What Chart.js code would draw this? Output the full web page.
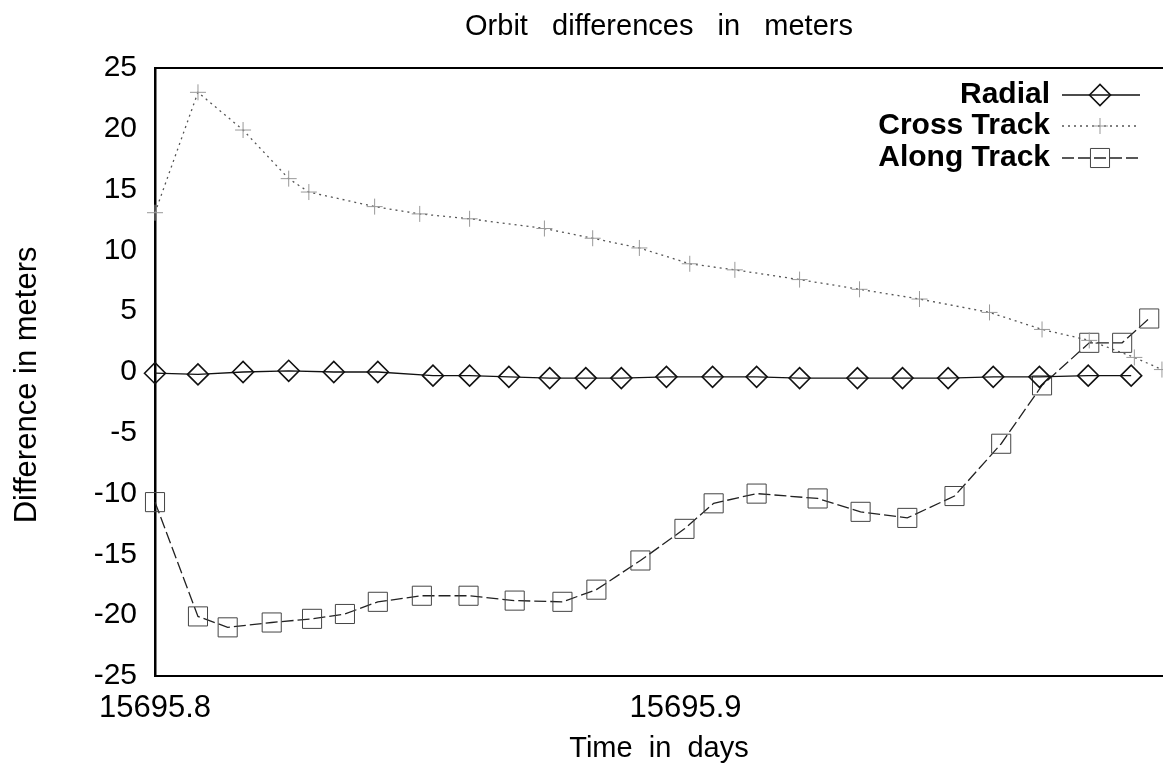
<!DOCTYPE html>
<html>
<head>
<meta charset="utf-8">
<title>Orbit differences in meters</title>
<script src="https://cdn.jsdelivr.net/npm/chart.js@4"></script>
<style>
  body { margin: 0; background: #fff; }
  #wrap { width: 1163px; height: 769px; }
</style>
</head>
<body>
<div id="wrap"><canvas id="orbitChart" width="1163" height="769"></canvas></div>
<script>
// values (time in days, difference in meters)
const radialTimes = [15695.8000, 15695.8081, 15695.8166, 15695.8252, 15695.8337, 15695.8420,
  15695.8524, 15695.8593, 15695.8667, 15695.8744, 15695.8812, 15695.8879, 15695.8964,
  15695.9051, 15695.9134, 15695.9215, 15695.9324, 15695.9409, 15695.9495, 15695.9580,
  15695.9667, 15695.9759, 15695.9840];
const radialValues = [-0.1, -0.2, 0.0, 0.1, 0.0, 0.0, -0.3, -0.3, -0.4, -0.5, -0.5, -0.5, -0.4,
  -0.4, -0.4, -0.5, -0.5, -0.5, -0.5, -0.4, -0.4, -0.3, -0.3];

const crossTimes = [15695.8000, 15695.8081, 15695.8166, 15695.8252, 15695.8290, 15695.8414,
  15695.8499, 15695.8593, 15695.8734, 15695.8825, 15695.8913, 15695.9008, 15695.9093,
  15695.9215, 15695.9328, 15695.9441, 15695.9573, 15695.9672, 15695.9761, 15695.9846,
  15695.9898];
const crossValues = [13.1, 23.0, 19.9, 15.9, 14.8, 13.6, 13.0, 12.6, 11.8, 11.0, 10.2, 8.9, 8.4,
  7.6, 6.8, 6.0, 4.9, 3.5, 2.6, 1.2, 0.2];

const alongTimes = [15695.8000, 15695.8081, 15695.8137, 15695.8220, 15695.8296, 15695.8358,
  15695.8420, 15695.8503, 15695.8591, 15695.8678, 15695.8768, 15695.8832, 15695.8915,
  15695.8998, 15695.9053, 15695.9134, 15695.9249, 15695.9330, 15695.9418, 15695.9507,
  15695.9595, 15695.9672, 15695.9761, 15695.9823, 15695.9874];
const alongValues = [-10.7, -20.1, -21.0, -20.6, -20.3, -19.9, -18.9, -18.4, -18.4, -18.8, -18.9,
  -17.9, -15.5, -12.9, -10.8, -10.0, -10.4, -11.5, -12.0, -10.2, -5.9, -1.1, 2.4, 2.4, 4.4];

const seriesNames = ['Radial', 'Cross Track', 'Along Track'];
const xTickValues = [15695.8, 15695.9];
const yTickValues = [-25, -20, -15, -10, -5, 0, 5, 10, 15, 20, 25];

const FONT = '"Liberation Sans", Arial, Helvetica, sans-serif';

function toPoints(times, values) {
  return times.map((t, i) => ({ x: t, y: values[i] }));
}

// legend drawn inside the plot, text on the left, sample on the right
const insideLegend = {
  id: 'insideLegend',
  afterDraw(chart) {
    const ctx = chart.ctx;
    const rows = [95, 126, 158];
    ctx.save();
    ctx.font = 'bold 30px ' + FONT;
    ctx.textAlign = 'right';
    ctx.textBaseline = 'middle';
    chart.data.datasets.forEach((ds, i) => {
      const y = rows[i];
      ctx.fillStyle = '#000';
      ctx.fillText(ds.label, 1050, y);

      ctx.strokeStyle = ds.borderColor;
      ctx.lineWidth = ds.borderWidth;
      ctx.setLineDash(ds.borderDash || []);
      ctx.beginPath();
      ctx.moveTo(1062, y);
      ctx.lineTo(1140, y);
      ctx.stroke();
      ctx.setLineDash([]);

      const r = ds.pointRadius;
      const cx = 1100;
      ctx.strokeStyle = ds.pointBorderColor;
      ctx.lineWidth = ds.pointBorderWidth;
      ctx.beginPath();
      if (ds.pointStyle === 'rectRot') {
        ctx.moveTo(cx - r, y); ctx.lineTo(cx, y - r);
        ctx.lineTo(cx + r, y); ctx.lineTo(cx, y + r); ctx.closePath();
      } else if (ds.pointStyle === 'rect') {
        const s = r * Math.SQRT1_2;
        ctx.rect(cx - s, y - s, 2 * s, 2 * s);
      } else {
        ctx.moveTo(cx - r, y); ctx.lineTo(cx + r, y);
        ctx.moveTo(cx, y - r); ctx.lineTo(cx, y + r);
      }
      ctx.stroke();
    });
    ctx.restore();
  }
};

new Chart(document.getElementById('orbitChart'), {
  type: 'line',
  data: {
    datasets: [
      {
        label: seriesNames[0],
        data: toPoints(radialTimes, radialValues),
        borderColor: '#111',
        borderWidth: 1.3,
        pointStyle: 'rectRot',
        pointRadius: 10.5,
        pointBorderColor: '#111',
        pointBorderWidth: 1.6,
        pointBackgroundColor: 'rgba(0,0,0,0)',
        clip: false
      },
      {
        label: seriesNames[1],
        data: toPoints(crossTimes, crossValues),
        borderColor: '#555',
        borderWidth: 1.3,
        borderDash: [2, 4],
        pointStyle: 'cross',
        pointRadius: 8,
        pointBorderColor: '#999',
        pointBorderWidth: 1,
        pointBackgroundColor: 'rgba(0,0,0,0)',
        clip: false
      },
      {
        label: seriesNames[2],
        data: toPoints(alongTimes, alongValues),
        borderColor: '#222',
        borderWidth: 1.3,
        borderDash: [12, 4],
        pointStyle: 'rect',
        pointRadius: 13.5,
        pointBorderColor: '#444',
        pointBorderWidth: 1,
        pointBackgroundColor: 'rgba(0,0,0,0)',
        clip: false
      }
    ]
  },
  options: {
    responsive: false,
    animation: false,
    layout: { padding: 0, autoPadding: false },
    elements: { line: { tension: 0 } },
    plugins: {
      legend: { display: false },
      title: { display: false },
      tooltip: { enabled: false }
    },
    scales: {
      x: {
        type: 'linear',
        position: 'bottom',
        min: 15695.8,
        max: 15695.99,
        afterFit: (s) => { s.height = 93; },
        afterBuildTicks: (s) => { s.ticks = xTickValues.map(v => ({ value: v })); },
        grid: { display: false },
        border: { display: true, color: '#000', width: 2 },
        ticks: {
          color: '#000',
          padding: 6,
          maxRotation: 0,
          font: { family: FONT, size: 31 },
          callback: (v) => Number(v).toFixed(1)
        },
        title: {
          display: true,
          text: 'Time  in  days',
          color: '#000',
          font: { family: FONT, size: 29 },
          padding: { top: 0, bottom: 3 }
        }
      },
      x2: {
        type: 'linear',
        position: 'top',
        min: 15695.8,
        max: 15695.99,
        afterFit: (s) => { s.height = 68; },
        grid: { display: false },
        border: { display: true, color: '#000', width: 2 },
        ticks: { display: false },
        title: {
          display: true,
          text: 'Orbit   differences   in   meters',
          color: '#000',
          font: { family: FONT, size: 29 },
          padding: { top: 10, bottom: 0 }
        }
      },
      y: {
        min: -25,
        max: 25,
        afterFit: (s) => { s.width = 155; },
        afterBuildTicks: (s) => { s.ticks = yTickValues.map(v => ({ value: v })); },
        grid: { display: false },
        border: { display: true, color: '#000', width: 2.5 },
        ticks: {
          color: '#000',
          padding: 10,
          font: { family: FONT, size: 30 }
        },
        title: {
          display: true,
          text: 'Difference in meters   ',
          color: '#000',
          font: { family: FONT, size: 31 },
          padding: { top: 9, bottom: 0 }
        }
      }
    }
  },
  plugins: [insideLegend]
});
</script>
</body>
</html>
